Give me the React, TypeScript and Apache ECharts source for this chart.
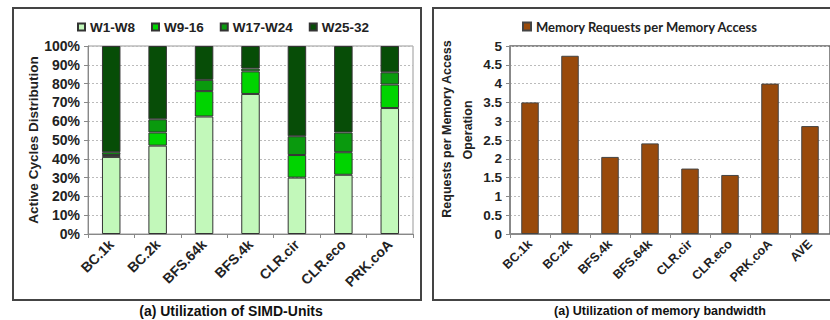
import React, { useEffect, useRef } from "react";
import * as echarts from "echarts";

const leftCategories = ["BC.1k", "BC.2k", "BFS.64k", "BFS.4k", "CLR.cir", "CLR.eco", "PRK.coA"];
const w1w8 = [41, 47, 62.5, 74.5, 30, 31.5, 67];
const w9w16 = [1, 7, 13.5, 12, 12, 12, 12.5];
const w17w24 = [1.5, 7, 6, 1.5, 10, 10.5, 6.5];
const w25w32 = [56.5, 39, 18, 12, 48, 46, 14];
const leftSeriesNames = ["W1-W8", "W9-16", "W17-W24", "W25-32"];
const leftTicks = [0, 10, 20, 30, 40, 50, 60, 70, 80, 90, 100];

const rightCategories = ["BC.1k", "BC.2k", "BFS.4k", "BFS.64k", "CLR.cir", "CLR.eco", "PRK.coA", "AVE"];
const memRequests = [3.5, 4.74, 2.05, 2.41, 1.74, 1.57, 4.0, 2.87];
const rightSeriesName = "Memory Requests per Memory Access";
const rightAxisNameLines = ["Requests per Memory Access", "Operation"];

const leftColors = ["#c2f8ba", "#00d400", "#0a9a0e", "#074d07"];
const brown = "#994a0b";
const FONT = "Arial, 'Liberation Sans', sans-serif";

export default function App() {
  const ref = useRef<HTMLDivElement>(null);
  useEffect(() => {
    if (!ref.current) return;
    const chart = echarts.init(ref.current, undefined, { renderer: "svg" });
    const leftData = [w1w8, w9w16, w17w24, w25w32];
    const axisLabelStyle = { fontFamily: FONT, fontWeight: "bold" as const, color: "#222" };
    const option: any = {
      animation: false,
      backgroundColor: "#fff",
      textStyle: { fontFamily: FONT },
      graphic: [
        { type: "rect", shape: { x: 13, y: 8, width: 408, height: 292 }, style: { fill: "none", stroke: "#444", lineWidth: 2 } },
        { type: "rect", shape: { x: 433, y: 8, width: 420, height: 292 }, style: { fill: "none", stroke: "#444", lineWidth: 2 } },
        { type: "text", x: 231, y: 311, style: { text: "(a) Utilization of SIMD-Units", font: "bold 14px Arial", fill: "#111", textAlign: "center", textVerticalAlign: "middle" } },
        { type: "text", x: 660, y: 311, style: { text: "(a) Utilization of memory bandwidth", font: "bold 12.5px Arial", fill: "#111", textAlign: "center", textVerticalAlign: "middle" } },
        { type: "text", x: 447, y: 129, rotation: Math.PI / 2, style: { text: rightAxisNameLines[0], font: "bold 12.5px Arial", fill: "#222", textAlign: "center", textVerticalAlign: "middle" } },
        { type: "text", x: 468, y: 130, rotation: Math.PI / 2, style: { text: rightAxisNameLines[1], font: "bold 12.5px Arial", fill: "#222", textAlign: "center", textVerticalAlign: "middle" } },
      ],
      legend: [
        {
          left: 77, top: 20, padding: 0, itemWidth: 7, itemHeight: 7, itemGap: 16, icon: "rect",
          data: leftSeriesNames,
          textStyle: { fontFamily: FONT, fontWeight: "bold", fontSize: 13.5, color: "#222" },
        },
        {
          left: 522, top: 20, padding: 0, itemWidth: 8, itemHeight: 8, icon: "rect",
          data: [rightSeriesName],
          textStyle: { fontFamily: "Lato, 'Open Sans', sans-serif", fontWeight: "bold", fontSize: 13, color: "#222" },
        },
      ],
      grid: [
        { left: 88, top: 46, width: 325, height: 188, show: true, borderColor: "#999", borderWidth: 1, containLabel: false },
        { left: 510, top: 46, width: 321, height: 188, show: true, borderColor: "#666", borderWidth: 1.5, containLabel: false },
      ],
      xAxis: [
        {
          type: "category", gridIndex: 0, data: leftCategories,
          axisLine: { lineStyle: { color: "#888" } },
          axisTick: { show: true, length: 4, lineStyle: { color: "#888" } },
          axisLabel: { ...axisLabelStyle, fontSize: 14, rotate: 45, margin: 8, interval: 0 },
        },
        {
          type: "category", gridIndex: 1, data: rightCategories,
          axisLine: { lineStyle: { color: "#888" } },
          axisTick: { show: true, length: 4, lineStyle: { color: "#888" } },
          axisLabel: { ...axisLabelStyle, fontSize: 12.5, rotate: 45, margin: 8, interval: 0 },
        },
      ],
      yAxis: [
        {
          type: "value", gridIndex: 0, min: leftTicks[0], max: leftTicks[leftTicks.length - 1], interval: 10,
          name: "Active Cycles Distribution", nameLocation: "middle", nameGap: 48, nameRotate: 90,
          nameTextStyle: { fontFamily: FONT, fontWeight: "bold", fontSize: 13.5, color: "#222" },
          axisLine: { show: true, lineStyle: { color: "#888" } },
          axisTick: { show: true, length: 4, lineStyle: { color: "#888" } },
          axisLabel: { ...axisLabelStyle, fontSize: 14, margin: 8, formatter: "{value}%" },
          splitLine: { show: true, lineStyle: { color: "#bbb", type: [2, 2] } },
        },
        {
          type: "value", gridIndex: 1, min: 0, max: 5, interval: 0.5,
          axisLine: { show: true, lineStyle: { color: "#888" } },
          axisTick: { show: true, length: 4, lineStyle: { color: "#888" } },
          axisLabel: { ...axisLabelStyle, fontSize: 13.5, margin: 8 },
          splitLine: { show: true, lineStyle: { color: "#bbb", type: [2, 2] } },
        },
      ],
      series: [
        ...leftSeriesNames.map((name, i) => ({
          name, type: "bar", stack: "simd", xAxisIndex: 0, yAxisIndex: 0,
          barWidth: 18.5, data: leftData[i],
          itemStyle: { color: leftColors[i], borderColor: "#333", borderWidth: 1 },
        })),
        {
          name: rightSeriesName, type: "bar", xAxisIndex: 1, yAxisIndex: 1,
          barWidth: 17.5, data: memRequests,
          itemStyle: { color: brown, borderColor: "#444", borderWidth: 1 },
        },
      ],
    };
    chart.setOption(option);
    return () => chart.dispose();
  }, []);
  return <div ref={ref} style={{ position: "fixed", left: 0, top: 0, width: 830, height: 320 }} />;
}
